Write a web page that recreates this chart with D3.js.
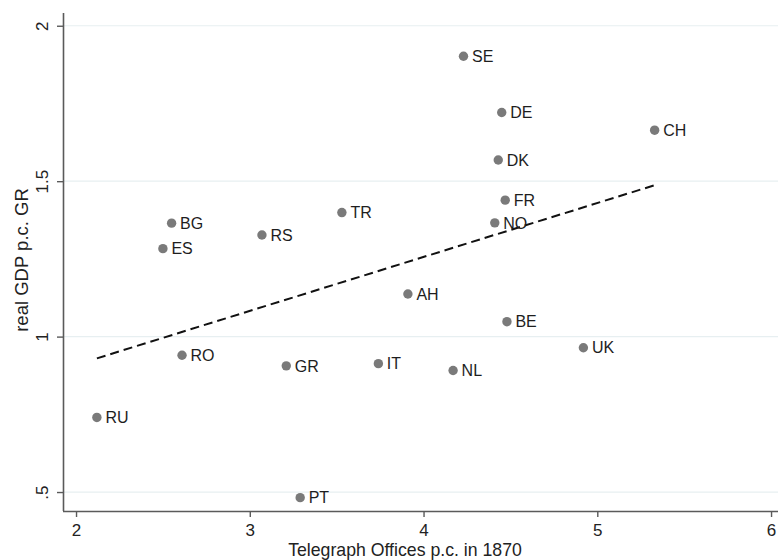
<!DOCTYPE html>
<html>
<head>
<meta charset="utf-8">
<script src="https://cdn.jsdelivr.net/npm/d3@7"></script>
<style>
  html, body { margin: 0; padding: 0; background: #fff; }
  svg { display: block; font-family: "Liberation Sans", Arial, Helvetica, sans-serif; }
</style>
</head>
<body>
<svg id="chart" width="778" height="560"></svg>
<script>
// Country codes, telegraph offices per capita (1870), real GDP per capita growth
const countries = ["SE","DE","CH","DK","FR","NO","TR","BG","ES","RS","AH","BE","UK","RO","GR","IT","NL","RU","PT"];
const telegraph = [4.23, 4.45, 5.33, 4.43, 4.47, 4.41, 3.53, 2.55, 2.50, 3.07, 3.91, 4.48, 4.92, 2.61, 3.21, 3.74, 4.17, 2.12, 3.29];
const gdpGrowth = [1.902, 1.721, 1.664, 1.568, 1.439, 1.366, 1.399, 1.365, 1.283, 1.327, 1.137, 1.048, 0.964, 0.940, 0.906, 0.913, 0.891, 0.740, 0.482];

// Linear fit, evaluated at the smallest and largest x
const fitX = [2.12, 5.33];
const fitY = [0.930, 1.487];

const xTicks = [2, 3, 4, 5, 6];
const yTicks = [0.5, 1, 1.5, 2];
const yTickLabels = [".5", "1", "1.5", "2"];

const svg = d3.select("#chart");
const plotLeft = 63, plotRight = 778, plotTop = 13, plotBottom = 511;

const x = d3.scaleLinear().domain([1.925, 6.04]).range([plotLeft, plotRight]);
const y = d3.scaleLinear().domain([0.439, 2.041]).range([plotBottom, plotTop]);

// horizontal gridlines
svg.append("g")
  .selectAll("line")
  .data(yTicks)
  .join("line")
  .attr("x1", plotLeft + 1).attr("x2", plotRight)
  .attr("y1", d => y(d)).attr("y2", d => y(d))
  .attr("stroke", "#e7eff1").attr("stroke-width", 1.2);

// y axis
const yAxis = svg.append("g")
  .attr("transform", `translate(${plotLeft},0)`)
  .call(d3.axisLeft(y).tickValues(yTicks).tickSize(6).tickSizeOuter(0)
    .tickFormat((d, i) => yTickLabels[i]));
yAxis.select(".domain").attr("stroke", "#5a5a5a").attr("stroke-width", 1.6)
  .attr("d", `M0.5,${plotTop}V${plotBottom}`);
yAxis.selectAll(".tick line").attr("stroke", "#5a5a5a").attr("stroke-width", 1.4);
yAxis.selectAll(".tick text")
  .attr("fill", "#222").attr("font-size", 17)
  .attr("x", null).attr("dy", null)
  .attr("text-anchor", "middle")
  .attr("transform", "translate(-15,0) rotate(-90)");

// x axis
const xAxis = svg.append("g")
  .attr("transform", `translate(0,${plotBottom})`)
  .call(d3.axisBottom(x).tickValues(xTicks).tickSize(6).tickSizeOuter(0)
    .tickFormat(d3.format("d")));
xAxis.select(".domain").attr("stroke", "#5a5a5a").attr("stroke-width", 1.6)
  .attr("d", `M${plotLeft},0.5H${plotRight}`);
xAxis.selectAll(".tick line").attr("stroke", "#5a5a5a").attr("stroke-width", 1.4);
xAxis.selectAll(".tick text")
  .attr("fill", "#222").attr("font-size", 17)
  .attr("y", 25).attr("dy", null);

// axis titles
svg.append("text")
  .attr("x", 405).attr("y", 556)
  .attr("text-anchor", "middle")
  .attr("font-size", 17.7).attr("fill", "#222")
  .text("Telegraph Offices p.c. in 1870");

svg.append("text")
  .attr("transform", `translate(28,${(plotTop + plotBottom) / 2 - 2}) rotate(-90)`)
  .attr("text-anchor", "middle")
  .attr("font-size", 18.5).attr("fill", "#222")
  .text("real GDP p.c. GR");

// fitted line
svg.append("line")
  .attr("x1", x(fitX[0])).attr("y1", y(fitY[0]))
  .attr("x2", x(fitX[1])).attr("y2", y(fitY[1]))
  .attr("stroke", "#111").attr("stroke-width", 2)
  .attr("stroke-dasharray", "9,5");

// points with labels
const pts = countries.map((c, i) => ({ c, x: telegraph[i], y: gdpGrowth[i] }));
const g = svg.append("g");
g.selectAll("circle")
  .data(pts)
  .join("circle")
  .attr("cx", d => x(d.x)).attr("cy", d => y(d.y))
  .attr("r", 4.7)
  .attr("fill", "#7a7a7a");
g.selectAll("text")
  .data(pts)
  .join("text")
  .attr("x", d => x(d.x) + 8.5).attr("y", d => y(d.y) + 5.7)
  .attr("font-size", 16).attr("fill", "#1e1e1e")
  .text(d => d.c);
</script>
</body>
</html>
